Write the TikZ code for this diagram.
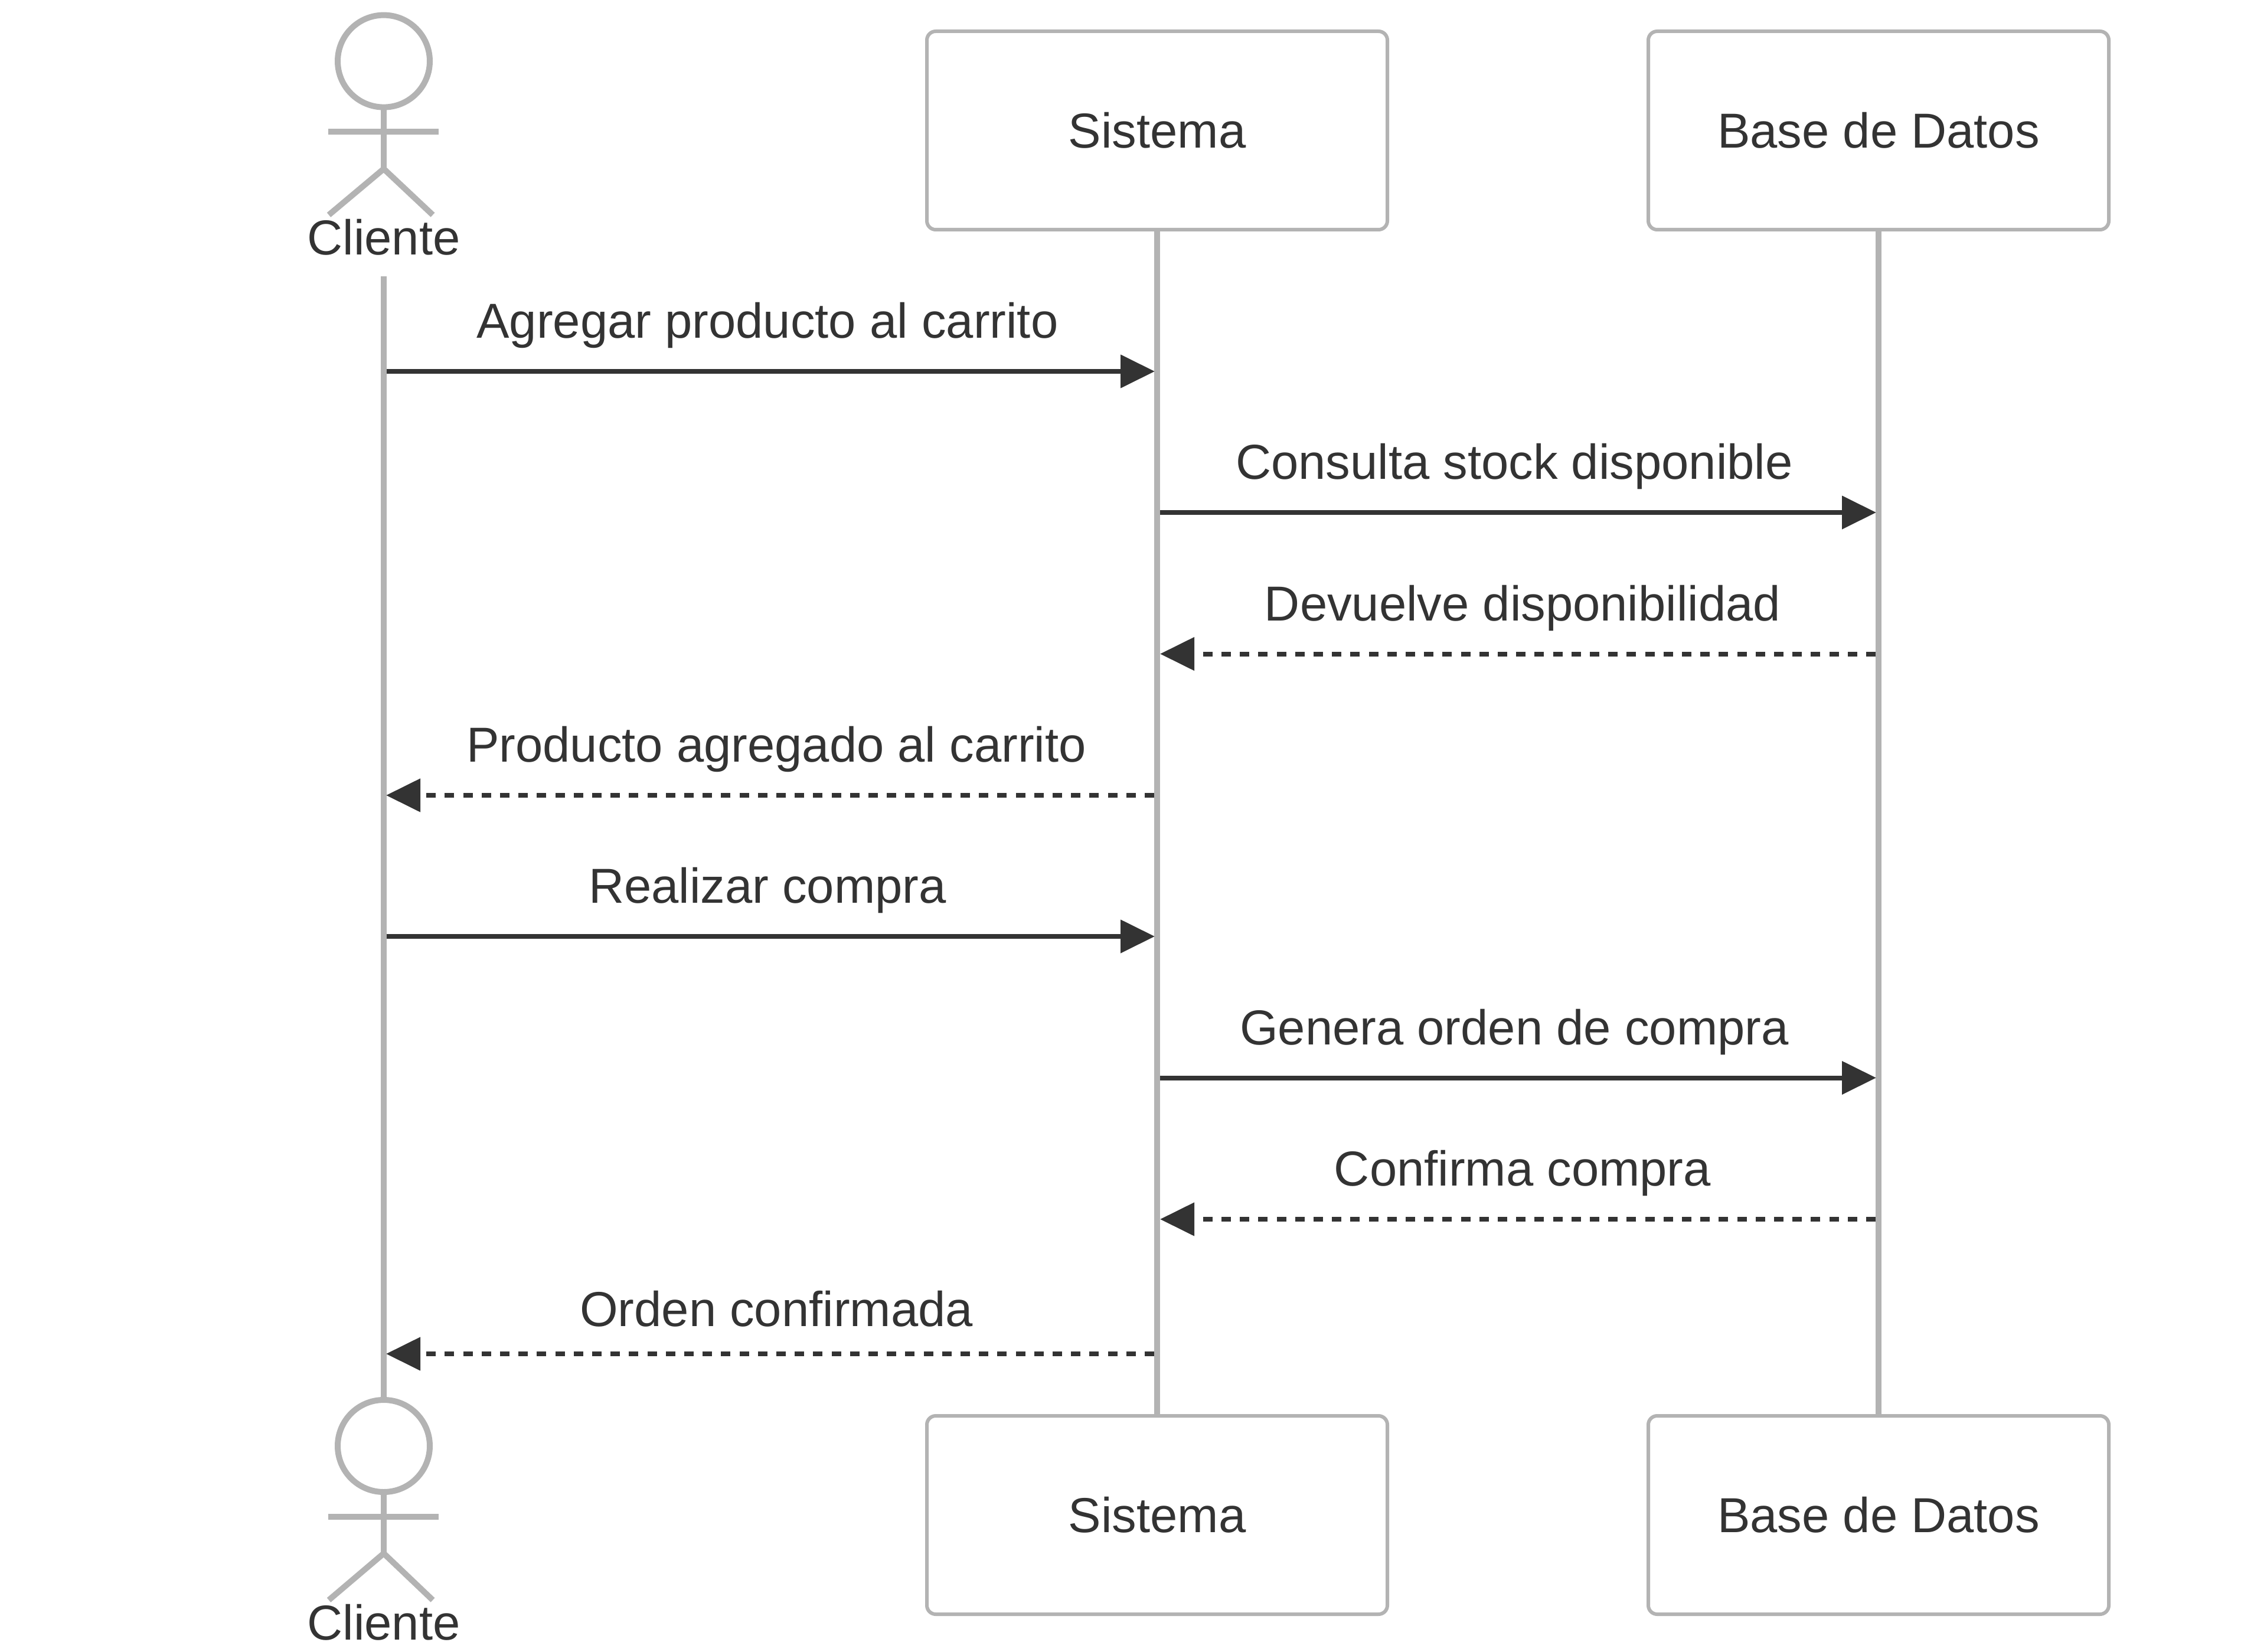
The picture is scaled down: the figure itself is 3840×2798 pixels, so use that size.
\documentclass[tikz,border=0pt]{standalone}
\usepackage{fontspec}
\setmainfont{Liberation Sans}
\usetikzlibrary{arrows.meta}
\definecolor{lifegrey}{HTML}{B3B3B3}
\definecolor{ink}{HTML}{333333}
\tikzset{
  x=0.5pt,y=-0.5pt,
  lifeline/.style={draw=lifegrey,line width=5pt},
  actorbox/.style={draw=lifegrey,fill=white,line width=3pt,rounded corners=7.5pt,minimum width=390pt,minimum height=168pt,inner sep=0pt,text=ink,font=\fontsize{41.6pt}{48pt}\selectfont},
  head/.style={circle,draw=lifegrey,fill=white,line width=5pt,minimum size=78pt,inner sep=0pt,outer sep=0pt},
  limb/.style={draw=lifegrey,line width=5pt},
  actorlabel/.style={anchor=base,inner sep=0pt,text=ink,font=\fontsize{41.6pt}{48pt}\selectfont},
  msglabel/.style={anchor=base,inner sep=0pt,text=ink,font=\fontsize{41.6pt}{48pt}\selectfont},
  sync/.style={draw=ink,line width=4pt,-{Triangle[length=29pt,width=27.5pt,color=ink]}},
  reply/.style={draw=ink,line width=4pt,dash pattern=on 8pt off 7.6pt,-{Triangle[length=29pt,width=27.5pt,color=ink]}},
}
\begin{document}
\begin{tikzpicture}
\useasboundingbox[fill=white] (0,0) rectangle (3840,2798);
% top participants
\node[head] (c1) at (650,103.6) {};
\node[actorlabel] (c1t) at (650,432) {Cliente};
\node[actorbox] (s1) at (1960,221) {Sistema};
\node[actorbox] (d1) at (3182,221) {Base de Datos};
% bottom participants
\node[head] (c2) at (650,2449) {};
\node[actorlabel] (c2t) at (650,2777) {Cliente};
\node[actorbox] (s2) at (1960,2566) {Sistema};
\node[actorbox] (d2) at (3182,2566) {Base de Datos};
% stick figures
\coordinate (c1hip) at (650,286);
\coordinate (c1al) at (556,223);
\coordinate (c1ar) at (743,223);
\coordinate (c1ll) at (557,364);
\coordinate (c1lr) at (733,364);
\draw[limb] (c1.south) -- (c1hip);
\draw[limb] (c1al) -- (c1ar);
\draw[limb] (c1ll) -- (c1hip) -- (c1lr);
\coordinate (c2hip) at (650,2631);
\coordinate (c2al) at (556,2569);
\coordinate (c2ar) at (743,2569);
\coordinate (c2ll) at (557,2710);
\coordinate (c2lr) at (733,2710);
\draw[limb] (c2.south) -- (c2hip);
\draw[limb] (c2al) -- (c2ar);
\draw[limb] (c2ll) -- (c2hip) -- (c2lr);
% lifelines
\coordinate (c1top) at (650,468);
\draw[lifeline] (c1top) -- (c2.north);
\draw[lifeline] (s1.south) -- (s2.north);
\draw[lifeline] (d1.south) -- (d2.north);
% messages
\coordinate (a1) at (655,629);  \coordinate (b1) at (1956,629);
\coordinate (a2) at (1965,868); \coordinate (b2) at (3178,868);
\coordinate (a3) at (3177,1107.5);\coordinate (b3) at (1965,1107.5);
\coordinate (a4) at (1955,1347);\coordinate (b4) at (654,1347);
\coordinate (a5) at (655,1586); \coordinate (b5) at (1956,1586);
\coordinate (a6) at (1965,1825.5);\coordinate (b6) at (3178,1825.5);
\coordinate (a7) at (3177,2065);\coordinate (b7) at (1965,2065);
\coordinate (a8) at (1955,2293);\coordinate (b8) at (654,2293);
\draw[sync] (a1) -- (b1);
\draw[sync] (a2) -- (b2);
\draw[reply] (a3) -- (b3);
\draw[reply] (a4) -- (b4);
\draw[sync] (a5) -- (b5);
\draw[sync] (a6) -- (b6);
\draw[reply] (a7) -- (b7);
\draw[reply] (a8) -- (b8);
\node[msglabel] (m1) at (1300,572.5) {Agregar producto al carrito};
\node[msglabel] (m2) at (2565,811.7) {Consulta stock disponible};
\node[msglabel] (m3) at (2579,1051) {Devuelve disponibilidad};
\node[msglabel] (m4) at (1315,1290.4) {Producto agregado al carrito};
\node[msglabel] (m5) at (1300,1529.7) {Realizar compra};
\node[msglabel] (m6) at (2565,1769) {Genera orden de compra};
\node[msglabel] (m7) at (2579,2008.6) {Confirma compra};
\node[msglabel] (m8) at (1315,2246.7) {Orden confirmada};
\end{tikzpicture}
\end{document}
